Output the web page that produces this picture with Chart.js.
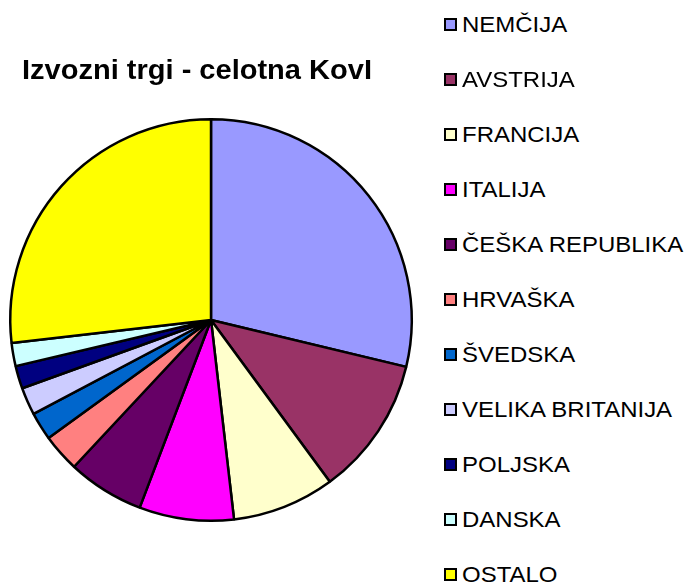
<!DOCTYPE html>
<html>
<head>
<meta charset="utf-8">
<script src="https://cdn.jsdelivr.net/npm/chart.js@4"></script>
<style>
  body { margin: 0; background: #fff; }
  #wrap { position: relative; width: 686px; height: 584px; overflow: hidden; font-family: "Liberation Sans", Arial, sans-serif; }
  #title { position: absolute; left: 22px; top: 57px; font-size: 27px; font-weight: bold; line-height: 27px; white-space: nowrap; color: #000;
           transform: scaleX(1.075); transform-origin: left center; }
  #pie { position: absolute; left: 0; top: 0; }
  .item { position: absolute; left: 444px; height: 22px; display: flex; align-items: center; font-size: 22px; line-height: 22px; white-space: nowrap; color: #000; }
  .box { width: 9px; height: 9px; border: 2px solid #000; margin-right: 5px; }
  .txt { display: inline-block; transform: scaleX(1.09); transform-origin: left center; }
</style>
</head>
<body>
<div id="wrap">
  <canvas id="pie" width="422" height="584"></canvas>
  <div id="title">Izvozni trgi - celotna KovI</div>
  <div id="legend"></div>
</div>
<script>
const categories = ['NEMČIJA', 'AVSTRIJA', 'FRANCIJA', 'ITALIJA', 'ČEŠKA REPUBLIKA', 'HRVAŠKA',
    'ŠVEDSKA', 'VELIKA BRITANIJA', 'POLJSKA', 'DANSKA', 'OSTALO'];
const shares = [28.75, 11.17, 8.25, 7.61, 6.17, 3.06, 2.25, 2.22, 1.83, 1.86, 26.83];
const colors = ['#9999FF', '#993366', '#FFFFCC', '#FF00FF', '#660066', '#FF8080',
    '#0066CC', '#CCCCFF', '#000080', '#CCFFFF', '#FFFF00'];

// legend on the right, one row every 55px
const legend = document.getElementById('legend');
categories.forEach((name, i) => {
    const row = document.createElement('div');
    row.className = 'item';
    row.style.top = (13.5 + i * 55) + 'px';
    row.innerHTML = '<span class="box" style="background:' + colors[i] + '"></span><span class="txt">' + name + '</span>';
    legend.appendChild(row);
});

const ctx = document.getElementById('pie').getContext('2d');
new Chart(ctx, {
    type: 'pie',
    data: {
        labels: categories,
        datasets: [{
            data: shares,
            backgroundColor: colors,
            borderColor: '#000',
            borderWidth: 2.5
        }]
    },
    options: {
        responsive: false,
        animation: false,
        layout: {
            padding: { top: 117, bottom: 61, left: 9, right: 9 }
        },
        plugins: {
            legend: { display: false },
            tooltip: { enabled: false }
        }
    }
});
</script>
</body>
</html>
